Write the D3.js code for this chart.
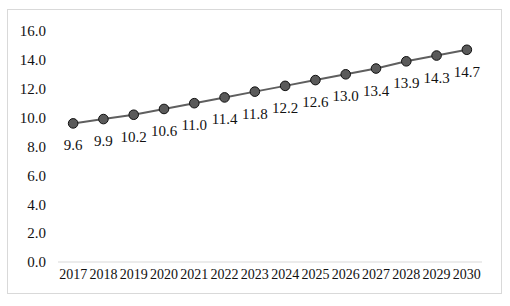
<!DOCTYPE html>
<html>
<head>
<meta charset="utf-8">
<script src="https://cdn.jsdelivr.net/npm/d3@7.9.0/dist/d3.min.js"></script>
<style>
  body { margin: 0; background: #fff; }
</style>
</head>
<body>
<svg id="chart" width="510" height="306"></svg>
<script>
// chart data
const years = ['2017', '2018', '2019', '2020', '2021', '2022', '2023',
  '2024', '2025', '2026', '2027', '2028', '2029', '2030'];
const values = [9.6, 9.9, 10.2, 10.6, 11.0, 11.4, 11.8, 12.2, 12.6, 13.0, 13.4, 13.9, 14.3, 14.7];
const yTicks = [0, 2, 4, 6, 8, 10, 12, 14, 16];

const serif = '"Liberation Serif", "Times New Roman", serif';
const svg = d3.select('#chart');

// outer frame
svg.append('rect')
  .attr('x', 7.5).attr('y', 9.5)
  .attr('width', 494).attr('height', 284)
  .attr('fill', '#fff')
  .attr('stroke', '#d9d9d9')
  .attr('stroke-width', 1);

const x = d3.scaleBand().domain(years).range([58, 482]);
const y = d3.scaleLinear().domain([0, 16]).range([262, 31]);

// y axis labels, no line
const yAxis = svg.append('g')
  .attr('transform', 'translate(46,0)')
  .call(d3.axisLeft(y).tickValues(yTicks).tickFormat(d3.format('.1f')).tickSize(0).tickPadding(0));
yAxis.select('.domain').remove();
yAxis.selectAll('text')
  .style('font-family', serif)
  .style('font-size', '15px')
  .attr('fill', '#111');

// baseline
svg.append('line')
  .attr('x1', 58).attr('x2', 482)
  .attr('y1', y(0)).attr('y2', y(0))
  .attr('stroke', '#d9d9d9').attr('stroke-width', 1.2);

// x axis labels
const xAxis = svg.append('g')
  .attr('transform', `translate(0,${y(0)})`)
  .call(d3.axisBottom(x).tickSize(0).tickPadding(7));
xAxis.select('.domain').remove();
xAxis.selectAll('text')
  .style('font-family', serif)
  .style('font-size', '14px')
  .attr('fill', '#111');

const cx = (d, i) => x(years[i]) + x.bandwidth() / 2;

// line
svg.append('path')
  .datum(values)
  .attr('fill', 'none')
  .attr('stroke', '#5f5f5f')
  .attr('stroke-width', 2)
  .attr('d', d3.line().x(cx).y(d => y(d)));

// markers
svg.selectAll('circle.pt')
  .data(values)
  .enter()
  .append('circle')
  .attr('class', 'pt')
  .attr('cx', cx)
  .attr('cy', d => y(d))
  .attr('r', 4.8)
  .attr('fill', '#5a5a5a')
  .attr('stroke', '#111')
  .attr('stroke-width', 1);

// value labels below points
svg.selectAll('text.val')
  .data(values)
  .enter()
  .append('text')
  .attr('class', 'val')
  .attr('x', cx)
  .attr('y', d => y(d) + 27)
  .attr('text-anchor', 'middle')
  .style('font-family', serif)
  .style('font-size', '15px')
  .attr('fill', '#111')
  .text(d => d.toFixed(1));
</script>
</body>
</html>
